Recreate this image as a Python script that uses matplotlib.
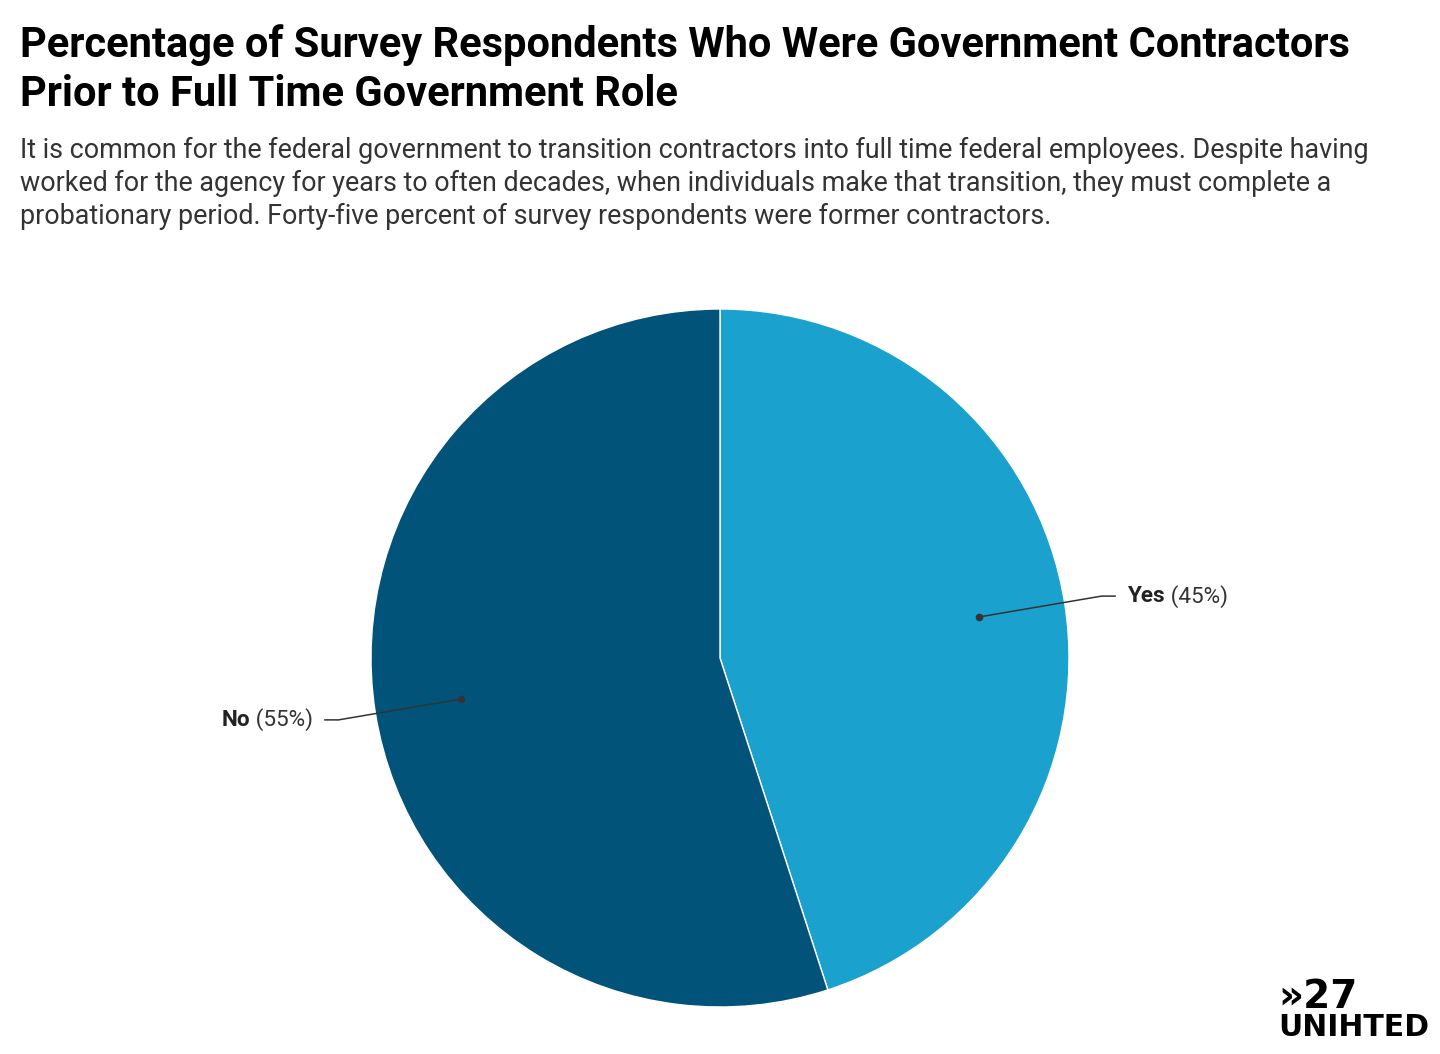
import numpy as np
import matplotlib
matplotlib.use("Agg")
import matplotlib.pyplot as plt

plt.rcParams["font.family"] = ["Roboto", "DejaVu Sans"]

labels = ["Yes", "No"]
shares = [45, 55]
colors = ["#1ba1cd", "#02537a"]

title_lines = ["Percentage of Survey Respondents Who Were Government Contractors",
               "Prior to Full Time Government Role"]
subtitle_lines = [
    "It is common for the federal government to transition contractors into full time federal employees. Despite having",
    "worked for the agency for years to often decades, when individuals make that transition, they must complete a",
    "probationary period. Forty-five percent of survey respondents were former contractors.",
]

W, H = 1440, 1054
fig = plt.figure(figsize=(W / 100, H / 100), dpi=100)
fig.patch.set_facecolor("white")

# pie centre (720, 658) px, radius 349 px
cx, cy, R = 720, 658, 349
ax = fig.add_axes([(cx - R) / W, (H - cy - R) / H, 2 * R / W, 2 * R / H])
wedges, _ = ax.pie(shares, colors=colors, startangle=90, counterclock=False,
                   radius=1, wedgeprops=dict(edgecolor="white", linewidth=1))
ax.set_xlim(-1, 1)
ax.set_ylim(-1, 1)
ax.set_aspect("equal")
ax.axis("off")

for w, lab, val in zip(wedges, labels, shares):
    mid = np.deg2rad((w.theta1 + w.theta2) / 2)
    x0, y0 = 0.75 * np.cos(mid), 0.75 * np.sin(mid)
    side = 1 if x0 > 0 else -1
    ty = y0 + 0.06 * side
    ex = side * 1.093
    hx = side * 1.132
    ax.plot([x0, ex, hx], [y0, ty, ty], color="#333333", lw=1.1, clip_on=False)
    ax.plot([x0], [y0], "o", color="#333333", ms=4.5, clip_on=False)
    tx = side * 1.166
    if side > 0:
        t = ax.text(tx, ty, lab, ha="left", va="center", fontsize=16.2,
                    fontweight="bold", color="#222222", clip_on=False)
        ax.annotate(f" ({val}%)", xycoords=t, xy=(1, 0.5), va="center",
                    ha="left", fontsize=16.2, color="#333333")
    else:
        t = ax.text(tx, ty, f" ({val}%)", ha="right", va="center", fontsize=16.2,
                    color="#333333", clip_on=False)
        ax.annotate(lab, xycoords=t, xy=(0, 0.5), va="center",
                    ha="right", fontsize=16.2, fontweight="bold", color="#222222")

# title and subtitle, one text per line at measured baselines
for i, line in enumerate(title_lines):
    fig.text(20 / W, 1 - (57 + 49 * i) / H, line, ha="left", va="baseline",
             fontsize=30, fontweight="bold", color="#000000")
for i, line in enumerate(subtitle_lines):
    fig.text(20 / W, 1 - (158 + 33 * i) / H, line, ha="left", va="baseline",
             fontsize=19.35, color="#333333")

# logo
fig.text(1278 / W, 1 - 1008 / H, "»27", ha="left", va="baseline", fontsize=28,
         fontweight="heavy", family="DejaVu Sans", color="#000000")
fig.text(1278 / W, 1 - 1036 / H, "UNIHTED", ha="left", va="baseline", fontsize=21.5,
         fontweight="heavy", family="DejaVu Sans", color="#000000")

fig.savefig("out.png", dpi=100)
